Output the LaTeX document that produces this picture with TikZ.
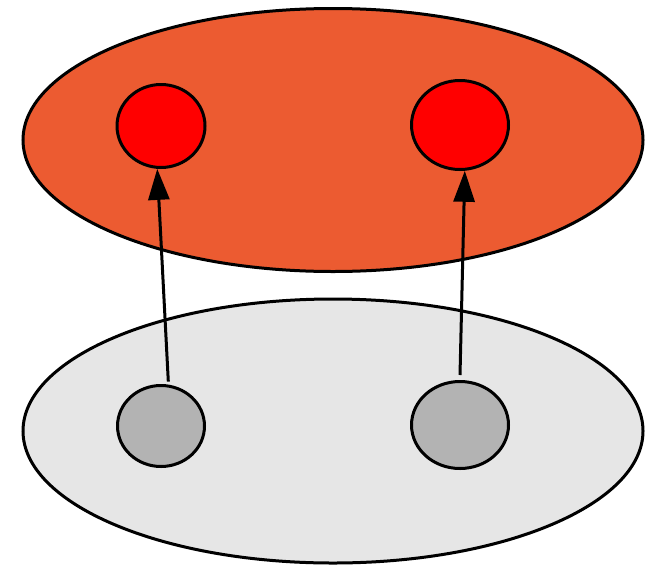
\documentclass[tikz,border=0pt]{standalone}
\usetikzlibrary{shapes.geometric,arrows.meta}
\definecolor{topfill}{HTML}{EC5B31}
\definecolor{botfill}{HTML}{E6E6E6}
\definecolor{dotred}{HTML}{FF0000}
\definecolor{dotgray}{HTML}{B3B3B3}
\begin{document}
\begin{tikzpicture}[x=1pt,y=-1pt,
  layer/.style={ellipse,draw=black,line width=3pt,inner sep=0pt},
  dot/.style={ellipse,draw=black,line width=3pt,inner sep=0pt},
  link/.style={line width=3pt,-{Triangle[length=31pt,width=21pt]}}]
\useasboundingbox (0,0) rectangle (652,565);
\node[layer,fill=topfill,minimum width=620pt,minimum height=263pt] (top) at (333,140) {};
\node[layer,fill=botfill,minimum width=620pt,minimum height=264pt] (bot) at (333,431) {};
\node[dot,fill=dotred,minimum width=88pt,minimum height=83pt] (rl) at (161,126) {};
\node[dot,fill=dotred,minimum width=97pt,minimum height=89pt] (rr) at (460,125) {};
\node[dot,fill=dotgray,minimum width=87pt,minimum height=81pt] (gl) at (161,426) {};
\node[dot,fill=dotgray,minimum width=97pt,minimum height=87pt] (gr) at (460,425) {};
\draw[link] (gl.80) ++(0,-3) -- (rl.265);
\draw[link] (gr.north) ++(0,-5) -- (rr.276);
\end{tikzpicture}
\end{document}
